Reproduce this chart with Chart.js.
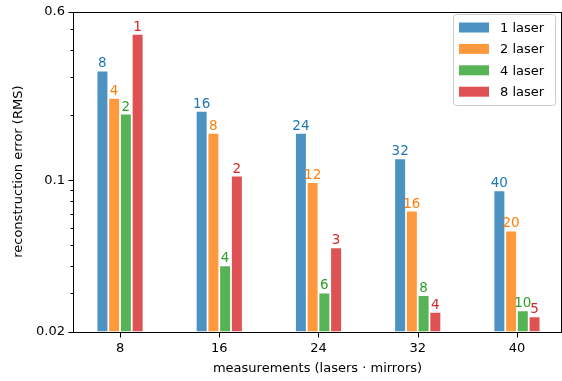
<!DOCTYPE html>
<html>
<head>
<meta charset="utf-8">
<script src="https://cdn.jsdelivr.net/npm/chart.js@4"></script>
<style>
  html, body { margin: 0; padding: 0; background: #fff; }
  #wrap { width: 562px; height: 381px; }
</style>
</head>
<body>
<div id="wrap"><canvas id="chart" width="562" height="381"></canvas></div>
<script>
// measurements on the x axis
const categories = [8, 16, 24, 32, 40];

// reconstruction error (RMS) per laser count
const oneLaser = [0.318, 0.207, 0.164, 0.125, 0.089];
const twoLaser = [0.238, 0.164, 0.097, 0.0716, 0.058];
const fourLaser = [0.201, 0.040, 0.030, 0.0292, 0.0248];
const eightLaser = [0.47, 0.104, 0.0485, 0.0244, 0.0233];

// numbers written above the bars (mirrors)
const oneLaserTags = ['8', '16', '24', '32', '40'];
const twoLaserTags = ['4', '8', '12', '16', '20'];
const fourLaserTags = ['2', '4', '6', '8', '10'];
const eightLaserTags = ['1', '2', '3', '4', '5'];

const seriesNames = ['1 laser', '2 laser', '4 laser', '8 laser'];

// y axis ticks (log), only some get a label
const yTicks = [0.02, 0.03, 0.04, 0.05, 0.06, 0.07, 0.08, 0.09, 0.1, 0.2, 0.3, 0.4, 0.5, 0.6];
const yTickLabels = { 0.02: '0.02', 0.1: '0.1', 0.6: '0.6' };

const barColors = ['#4c92c3', '#ff993e', '#56b356', '#de5253'];
const textColors = ['#1f77b4', '#ff7f0e', '#2ca02c', '#d62728'];
const font = 'DejaVu Sans';

const values = [oneLaser, twoLaser, fourLaser, eightLaser];
const tags = [oneLaserTags, twoLaserTags, fourLaserTags, eightLaserTags];

const datasets = values.map((vals, index) => ({
    label: seriesNames[index],
    data: categories.map((c, i) => ({ x: c, y: vals[i] })),
    backgroundColor: barColors[index],
    borderWidth: 0,
    categoryPercentage: 0.473,
    barPercentage: 0.85,
    tags: tags[index],
    textColor: textColors[index]
}));

// bar value labels
const barTagsPlugin = {
    id: 'barTags',
    afterDatasetsDraw(chart) {
        const ctx = chart.ctx;
        ctx.save();
        ctx.font = '13.5px "' + font + '"';
        ctx.textAlign = 'center';
        ctx.textBaseline = 'alphabetic';
        chart.data.datasets.forEach((ds, di) => {
            const meta = chart.getDatasetMeta(di);
            ctx.fillStyle = ds.textColor;
            meta.data.forEach((bar, i) => {
                ctx.fillText(ds.tags[i], bar.x, bar.y - 4);
            });
        });
        ctx.restore();
    }
};

// axes box, tick marks and legend inside the plot
const frameLegendPlugin = {
    id: 'frameLegend',
    afterDraw(chart) {
        const ctx = chart.ctx;
        const a = chart.chartArea;
        const yScale = chart.scales.y;
        const xScale = chart.scales.x;
        ctx.save();
        ctx.strokeStyle = '#000';
        ctx.lineWidth = 1;
        const left = Math.round(a.left) - 0.5;
        const bottom = Math.round(a.bottom) + 0.5;
        ctx.strokeRect(left, Math.round(a.top) + 0.5,
            Math.round(a.right - a.left) + 1, Math.round(a.bottom - a.top));

        // crisp tick marks
        ctx.beginPath();
        yTicks.forEach(v => {
            const y = Math.round(yScale.getPixelForValue(v)) + 0.5;
            const len = yTickLabels[v] ? 5 : 3;
            ctx.moveTo(left - len, y);
            ctx.lineTo(left, y);
        });
        categories.forEach(v => {
            const x = Math.round(xScale.getPixelForValue(v)) + 0.5;
            ctx.moveTo(x, bottom);
            ctx.lineTo(x, bottom + 5);
        });
        ctx.stroke();

        // legend
        const lx = 453.5, ly = 14.5, lw = 102, lh = 91;
        ctx.fillStyle = 'rgba(255,255,255,0.8)';
        ctx.strokeStyle = '#cccccc';
        ctx.beginPath();
        ctx.roundRect(lx, ly, lw, lh, 3);
        ctx.fill();
        ctx.stroke();
        ctx.font = '13px "' + font + '"';
        ctx.textAlign = 'left';
        ctx.textBaseline = 'middle';
        seriesNames.forEach((name, i) => {
            const cy = 27.5 + i * 21.4;
            ctx.fillStyle = barColors[i];
            ctx.fillRect(459, cy - 5, 30, 10);
            ctx.fillStyle = '#000';
            ctx.fillText(name, 500, cy + 1);
        });
        ctx.restore();
    }
};

new Chart(document.getElementById('chart').getContext('2d'), {
    type: 'bar',
    data: { datasets },
    plugins: [barTagsPlugin, frameLegendPlugin],
    options: {
        responsive: false,
        animation: false,
        layout: { padding: { left: 0, right: 1, top: 9, bottom: 0 } },
        plugins: {
            legend: { display: false },
            tooltip: { enabled: false }
        },
        scales: {
            x: {
                type: 'linear',
                min: 4.29,
                max: 43.55,
                offset: false,
                afterBuildTicks: scale => {
                    scale.ticks = categories.map(v => ({ value: v }));
                },
                afterFit: scale => { scale.height = 49.5; },
                grid: {
                    drawOnChartArea: false,
                    drawTicks: true,
                    tickLength: 5,
                    color: 'rgba(0,0,0,0)'
                },
                border: { display: false },
                ticks: {
                    color: '#000',
                    padding: 4,
                    maxRotation: 0,
                    font: { family: font, size: 13 },
                    callback: v => String(v)
                },
                title: {
                    display: true,
                    text: 'measurements (lasers · mirrors)',
                    color: '#000',
                    font: { family: font, size: 13 },
                    padding: { top: 0, bottom: 5 }
                }
            },
            y: {
                type: 'logarithmic',
                min: 0.02,
                max: 0.6,
                afterBuildTicks: scale => {
                    scale.ticks = yTicks.map(v => ({ value: v }));
                },
                afterFit: scale => { scale.width = 74; },
                grid: {
                    drawOnChartArea: false,
                    drawTicks: true,
                    tickLength: 5,
                    color: 'rgba(0,0,0,0)'
                },
                border: { display: false },
                ticks: {
                    color: '#000',
                    padding: 4,
                    autoSkip: false,
                    font: { family: font, size: 13 },
                    callback: v => yTickLabels[v] || ''
                },
                title: {
                    display: true,
                    text: 'reconstruction error (RMS)',
                    color: '#000',
                    font: { family: font, size: 13 },
                    padding: { top: 11, bottom: 0 }
                }
            }
        }
    }
});
</script>
</body>
</html>
